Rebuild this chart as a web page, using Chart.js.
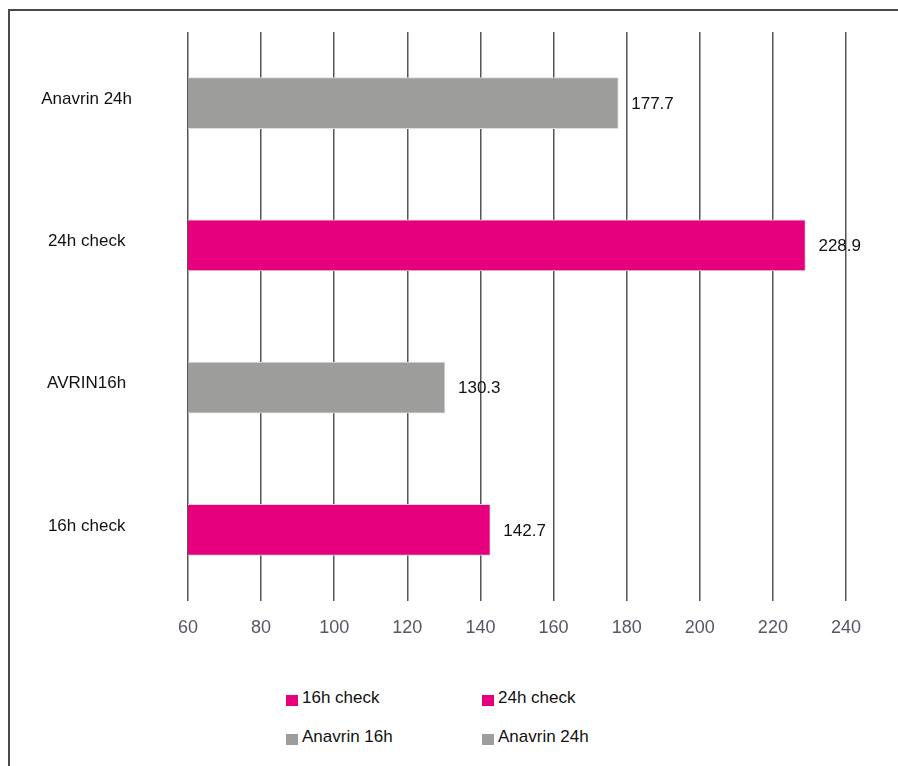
<!DOCTYPE html>
<html>
<head>
<meta charset="utf-8">
<script src="https://cdn.jsdelivr.net/npm/chart.js@4/dist/chart.umd.min.js"></script>
<style>
    html, body { margin: 0; padding: 0; background: #fff; overflow: hidden; }
    body { width: 898px; height: 766px; position: relative; font-family: Arial, "Liberation Sans", sans-serif; }
    .frame { position: absolute; left: 8px; top: 9px; width: 1000px; height: 1000px;
             border-top: 2px solid #4a4a4a; border-left: 2px solid #4a4a4a; }
    #chart { position: absolute; left: 0; top: 0; }
    .legend { position: absolute; left: 286px; top: 688px; width: 420px;
              display: grid; grid-template-columns: 196px 196px; row-gap: 19px; }
    .legend-item { display: flex; align-items: center; font-size: 17px; color: #111; height: 20px; }
    .legend-box { width: 12px; height: 11px; margin-right: 4px; margin-top: 4px; }
</style>
</head>
<body>
<div class="frame"></div>
<canvas id="chart" width="898" height="660"></canvas>
<div class="legend" id="legend"></div>
<script>
const categories = ['Anavrin 24h', '24h check', 'AVRIN16h', '16h check'];
const values = [177.7, 228.9, 130.3, 142.7];
const barColors = ['#9d9d9c', '#e6007e', '#9d9d9c', '#e6007e'];
const legendLabels = ['16h check', '24h check', 'Anavrin 16h', 'Anavrin 24h'];
const legendColors = ['#e6007e', '#e6007e', '#9d9d9c', '#9d9d9c'];
const xTicks = [60, 80, 100, 120, 140, 160, 180, 200, 220, 240];

const valueLabels = {
    id: 'valueLabels',
    afterDatasetsDraw(chart) {
        const ctx = chart.ctx;
        const meta = chart.getDatasetMeta(0);
        ctx.save();
        ctx.font = '17px Arial, "Liberation Sans", sans-serif';
        ctx.fillStyle = '#111';
        ctx.textAlign = 'left';
        ctx.textBaseline = 'middle';
        meta.data.forEach((bar, i) => {
            ctx.fillText(values[i].toFixed(1), bar.x + 13, bar.y + 1);
        });
        ctx.restore();
    }
};

new Chart(document.getElementById('chart').getContext('2d'), {
    type: 'bar',
    data: {
        labels: categories,
        datasets: [{
            data: values,
            backgroundColor: barColors,
            borderColor: '#dcdcdc',
            borderWidth: 1,
            barThickness: 51
        }]
    },
    options: {
        indexAxis: 'y',
        responsive: false,
        animation: false,
        devicePixelRatio: 1,
        layout: { padding: { top: 32, right: 52, left: 0, bottom: 0 } },
        plugins: {
            legend: { display: false },
            tooltip: { enabled: false }
        },
        scales: {
            x: {
                min: 60,
                max: 240,
                afterFit: (scale) => { scale.height = 59; },
                afterBuildTicks: (scale) => { scale.ticks = xTicks.map(v => ({ value: v })); },
                grid: { color: '#555', lineWidth: 1.5, drawTicks: false },
                border: { display: false },
                ticks: {
                    padding: 16,
                    color: '#535862',
                    font: { size: 18, family: 'Arial, "Liberation Sans", sans-serif' }
                }
            },
            y: {
                afterFit: (scale) => {
                    scale.width = 188;
                    // big label padding should not push the plot area down
                    scale.paddingTop = 0;
                    scale.paddingBottom = 0;
                },
                grid: { display: false, drawTicks: false },
                border: { display: false },
                ticks: {
                    crossAlign: 'center',
                    padding: 56,
                    labelOffset: -4,
                    color: '#111',
                    font: { size: 17, family: 'Arial, "Liberation Sans", sans-serif' }
                }
            }
        }
    },
    plugins: [valueLabels]
});

const legendEl = document.getElementById('legend');
legendLabels.forEach((label, i) => {
    const item = document.createElement('div');
    item.className = 'legend-item';
    const box = document.createElement('span');
    box.className = 'legend-box';
    box.style.background = legendColors[i];
    item.appendChild(box);
    item.appendChild(document.createTextNode(label));
    legendEl.appendChild(item);
});
</script>
</body>
</html>
